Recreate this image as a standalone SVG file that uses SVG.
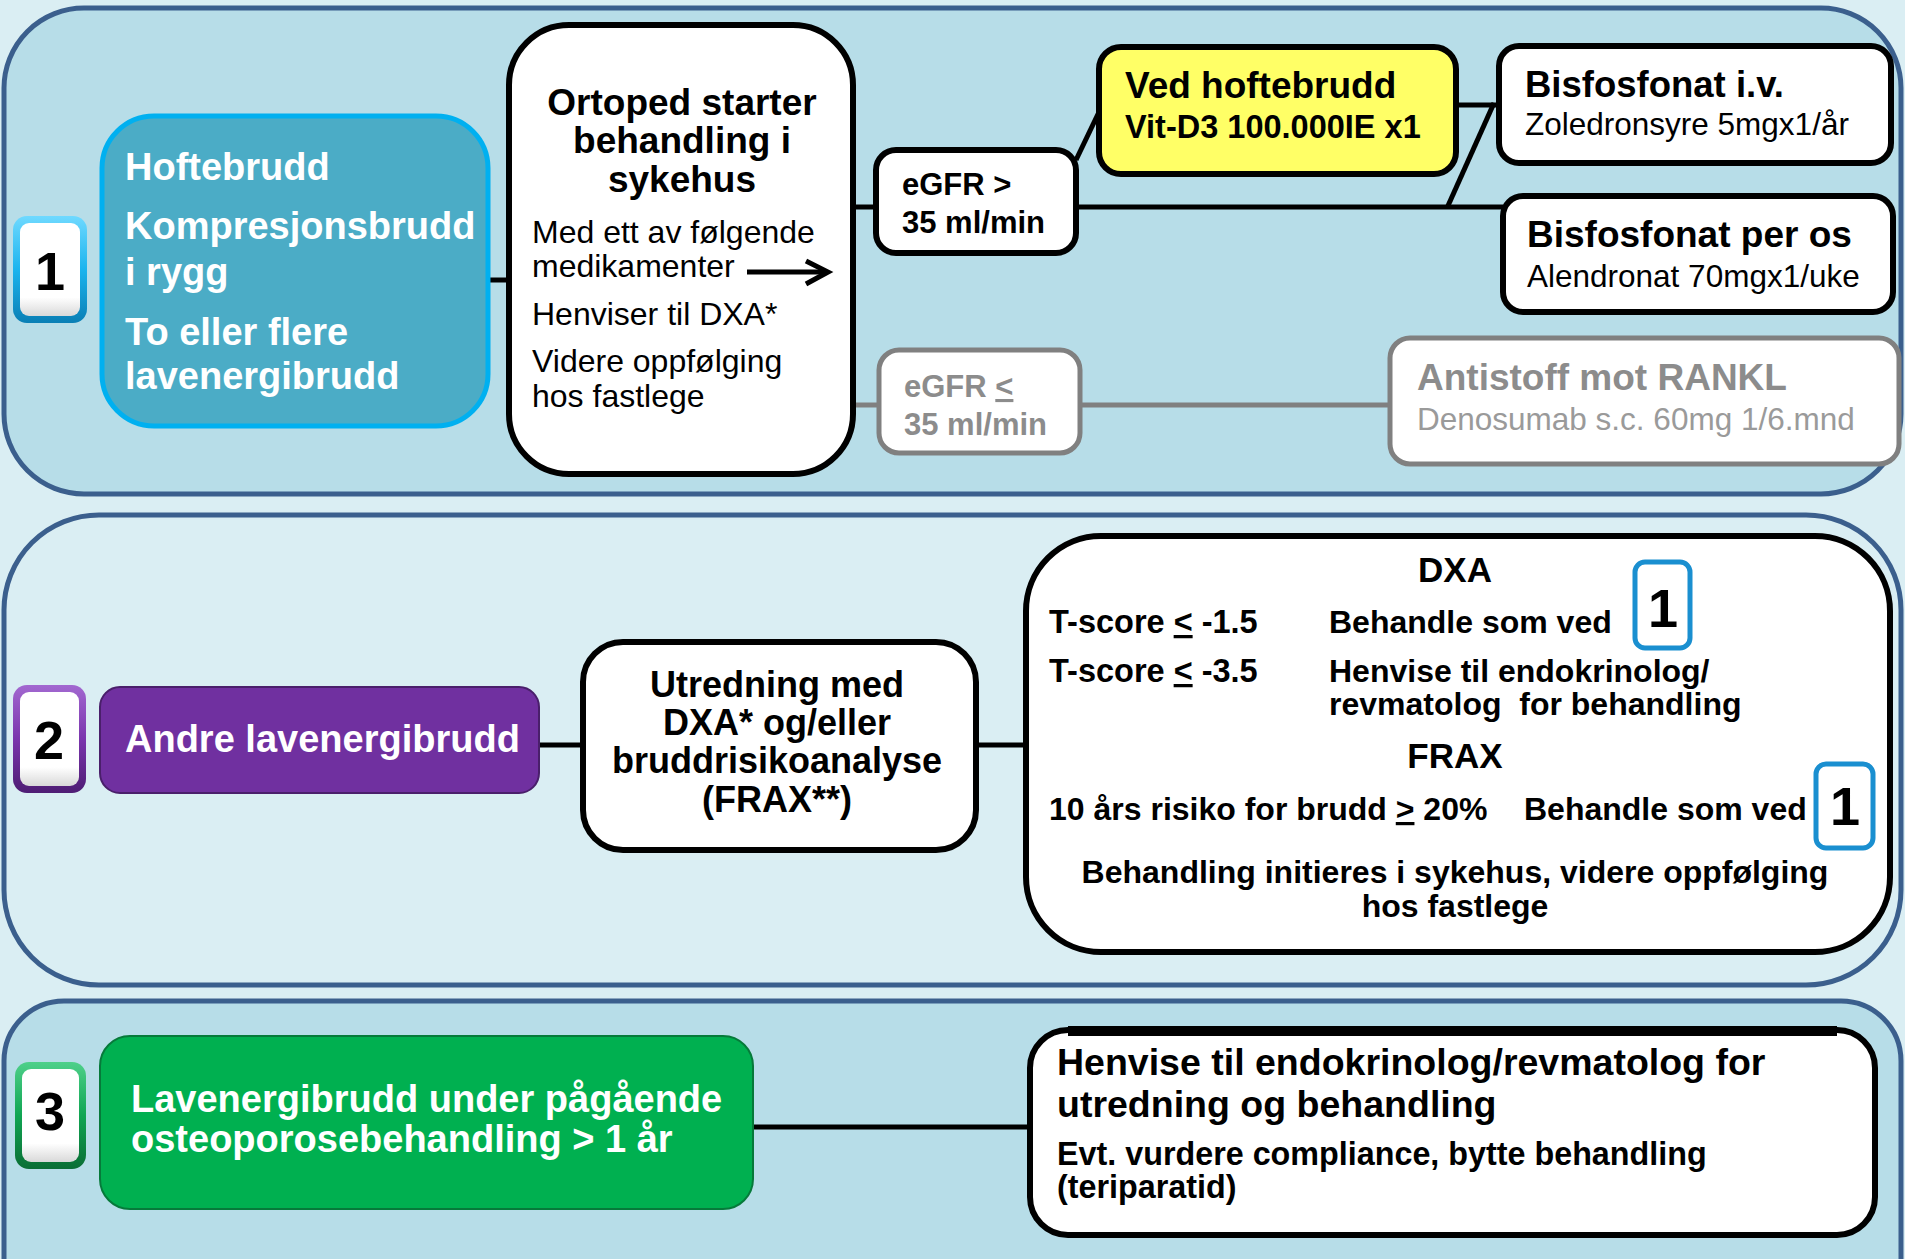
<svg xmlns="http://www.w3.org/2000/svg" width="1905" height="1259" viewBox="0 0 1905 1259">
<defs>
<style>
text{font-family:"Liberation Sans",Arial,sans-serif;}
.b{font-weight:bold;}
.w{fill:#ffffff;}
.k{fill:#000000;}
.g{fill:#8c8c8c;}
.box{fill:#ffffff;stroke:#000000;stroke-width:6;}
.gbox{fill:#ffffff;stroke:#808080;stroke-width:5;}
.panel{stroke:#3b5f8d;stroke-width:5;}
.con{stroke:#000000;stroke-width:5;fill:none;}
.gcon{stroke:#808080;stroke-width:5;fill:none;}
.num{font-weight:bold;font-size:54px;text-anchor:middle;fill:#000;}
.mid{text-anchor:middle;}
</style>
<linearGradient id="gBlue" x1="0" y1="0" x2="0" y2="1">
<stop offset="0" stop-color="#6fd9ff"/><stop offset="0.5" stop-color="#1bb4ee"/><stop offset="1" stop-color="#0a7fb5"/>
</linearGradient>
<linearGradient id="gPurple" x1="0" y1="0" x2="0" y2="1">
<stop offset="0" stop-color="#a268d0"/><stop offset="0.5" stop-color="#7a35ad"/><stop offset="1" stop-color="#4e1d74"/>
</linearGradient>
<linearGradient id="gGreen" x1="0" y1="0" x2="0" y2="1">
<stop offset="0" stop-color="#4ed08a"/><stop offset="0.5" stop-color="#10a552"/><stop offset="1" stop-color="#0a6e35"/>
</linearGradient>
<linearGradient id="gWhite" x1="0" y1="0" x2="0" y2="1">
<stop offset="0" stop-color="#ffffff"/><stop offset="0.8" stop-color="#ffffff"/><stop offset="1" stop-color="#d9d9d9"/>
</linearGradient>
</defs>

<rect x="0" y="0" width="1905" height="1259" fill="#daeef3"/>

<g id="panel1"><rect class="panel" x="4" y="8" width="1897" height="486" rx="80" fill="#b7dde8"/></g>
<g id="panel2"><rect class="panel" x="4" y="515" width="1897" height="470" rx="95" fill="#daeef3"/></g>
<g id="panel3"><rect class="panel" x="4" y="1001" width="1897" height="320" rx="60" fill="#b7dde8"/></g>

<g id="connectors">
<line class="con" x1="488" y1="280" x2="510" y2="280"/>
<line class="con" x1="852" y1="207" x2="876" y2="207"/>
<line class="gcon" x1="852" y1="405" x2="880" y2="405"/>
<line class="con" x1="1076" y1="160" x2="1099" y2="112"/>
<line class="con" x1="1076" y1="207" x2="1503" y2="207"/>
<line class="con" x1="1456" y1="105" x2="1499" y2="105"/>
<line class="con" x1="1447" y1="208" x2="1494" y2="103"/>
<line class="gcon" x1="1080" y1="405" x2="1391" y2="405"/>
<line class="con" x1="537" y1="745" x2="583" y2="745"/>
<line class="con" x1="976" y1="745" x2="1026" y2="745"/>
<line class="con" x1="751" y1="1127" x2="1030" y2="1127"/>
</g>

<g id="badge1">
<rect x="13" y="216" width="74" height="107" rx="14" fill="url(#gBlue)"/>
<rect x="20" y="223" width="60" height="93" rx="9" fill="url(#gWhite)"/>
<text class="num" x="50" y="290">1</text>
</g>

<g id="node-hoftebrudd">
<rect x="102" y="116" width="386" height="310" rx="52" fill="#4bacc6" stroke="#00b0f0" stroke-width="5"/>
<text class="b w" font-size="38" x="125"><tspan x="125" y="180">Hoftebrudd</tspan><tspan x="125" y="239">Kompresjonsbrudd</tspan><tspan x="125" y="285">i rygg</tspan><tspan x="125" y="345">To eller flere</tspan><tspan x="125" y="389">lavenergibrudd</tspan></text>
</g>

<g id="node-ortoped">
<rect class="box" x="509" y="25" width="344" height="449" rx="60"/>
<text class="b k mid" font-size="37"><tspan x="682" y="115">Ortoped starter</tspan><tspan x="682" y="153">behandling i</tspan><tspan x="682" y="192">sykehus</tspan></text>
<text class="k" font-size="32"><tspan x="532" y="243">Med ett av følgende</tspan><tspan x="532" y="277">medikamenter</tspan><tspan x="532" y="325">Henviser til DXA*</tspan><tspan x="532" y="372">Videre oppfølging</tspan><tspan x="532" y="407">hos fastlege</tspan></text>
<line x1="747" y1="272" x2="824" y2="272" stroke="#000" stroke-width="5"/>
<polyline points="806,261 828,272 806,284" fill="none" stroke="#000" stroke-width="5" stroke-linejoin="miter"/>
</g>

<g id="node-egfr-high">
<rect class="box" x="876" y="150" width="200" height="103" rx="20"/>
<text class="b k" font-size="31"><tspan x="902" y="195">eGFR &gt;</tspan><tspan x="902" y="233">35 ml/min</tspan></text>
</g>

<g id="node-egfr-low">
<rect class="gbox" x="879" y="350" width="201" height="103" rx="20"/>
<text class="b g" font-size="31"><tspan x="904" y="397">eGFR <tspan text-decoration="underline">&lt;</tspan></tspan><tspan x="904" y="435">35 ml/min</tspan></text>
</g>

<g id="node-ved-hoftebrudd">
<rect x="1099" y="47" width="357" height="127" rx="22" fill="#ffff66" stroke="#000" stroke-width="6"/>
<text class="b k" font-size="37" x="1125" y="98">Ved hoftebrudd</text>
<text class="b k" font-size="32.5" x="1125" y="138">Vit-D3 100.000IE x1</text>
</g>

<g id="node-bisfosfonat-iv">
<rect class="box" x="1499" y="46" width="392" height="117" rx="20"/>
<text class="b k" font-size="36.5" x="1525" y="97">Bisfosfonat i.v.</text>
<text class="k" font-size="31.5" x="1525" y="135">Zoledronsyre 5mgx1/år</text>
</g>

<g id="node-bisfosfonat-os">
<rect class="box" x="1503" y="196" width="390" height="116" rx="20"/>
<text class="b k" font-size="37" x="1527" y="247">Bisfosfonat per os</text>
<text class="k" font-size="31.5" x="1527" y="287">Alendronat 70mgx1/uke</text>
</g>

<g id="node-antistoff">
<rect class="gbox" x="1390" y="338" width="509" height="126" rx="20"/>
<text class="b g" font-size="37" x="1417" y="390">Antistoff mot RANKL</text>
<text font-size="31.5" x="1417" y="430" fill="#9a9a9a">Denosumab s.c. 60mg 1/6.mnd</text>
</g>

<g id="badge2">
<rect x="13" y="685" width="73" height="108" rx="14" fill="url(#gPurple)"/>
<rect x="20" y="692" width="59" height="94" rx="9" fill="url(#gWhite)"/>
<text class="num" x="49" y="759">2</text>
</g>

<g id="node-andre">
<rect x="100" y="687" width="439" height="106" rx="20" fill="#7030a0" stroke="#4a1f6b" stroke-width="2"/>
<text class="b w" font-size="38" x="125" y="752">Andre lavenergibrudd</text>
</g>

<g id="node-utredning">
<rect class="box" x="583" y="642" width="393" height="208" rx="40"/>
<text class="b k mid" font-size="36"><tspan x="777" y="697">Utredning med</tspan><tspan x="777" y="735">DXA* og/eller</tspan><tspan x="777" y="773">bruddrisikoanalyse</tspan><tspan x="777" y="812">(FRAX**)</tspan></text>
</g>

<g id="node-dxa-frax">
<rect class="box" x="1026" y="536" width="864" height="416" rx="75"/>
<text class="b k mid" font-size="35" x="1455" y="582">DXA</text>
<text class="b k" font-size="32.5" x="1049" y="633">T-score <tspan text-decoration="underline">&lt;</tspan> -1.5</text>
<text class="b k" font-size="32" x="1329" y="633">Behandle som ved</text>
<text class="b k" font-size="32.5" x="1049" y="682">T-score <tspan text-decoration="underline">&lt;</tspan> -3.5</text>
<text class="b k" font-size="32" xml:space="preserve"><tspan x="1329" y="682">Henvise til endokrinolog/</tspan><tspan x="1329" y="715">revmatolog  for behandling</tspan></text>
<text class="b k mid" font-size="35" x="1455" y="768">FRAX</text>
<text class="b k" font-size="32" x="1049" y="820">10 års risiko for brudd <tspan text-decoration="underline">&gt;</tspan> 20%</text>
<text class="b k" font-size="32" x="1524" y="820">Behandle som ved</text>
<text class="b k mid" font-size="32"><tspan x="1455" y="883">Behandling initieres i sykehus, videre oppfølging</tspan><tspan x="1455" y="917">hos fastlege</tspan></text>
</g>

<g id="badge1-dxa">
<rect x="1635" y="562" width="55" height="86" rx="10" fill="#ffffff" stroke="#1a8fd0" stroke-width="5"/>
<text class="num" x="1663" y="627">1</text>
</g>

<g id="badge1-frax">
<rect x="1816" y="764" width="57" height="84" rx="10" fill="#ffffff" stroke="#1a8fd0" stroke-width="5"/>
<text class="num" x="1845" y="825">1</text>
</g>

<g id="badge3">
<rect x="15" y="1062" width="71" height="107" rx="14" fill="url(#gGreen)"/>
<rect x="22" y="1069" width="57" height="93" rx="9" fill="url(#gWhite)"/>
<text class="num" x="50" y="1130">3</text>
</g>

<g id="node-lavenergi-under">
<rect x="100" y="1036" width="653" height="173" rx="30" fill="#00b050" stroke="#067a3a" stroke-width="2"/>
<text class="b w" font-size="38"><tspan x="131" y="1112">Lavenergibrudd under pågående</tspan><tspan x="131" y="1152">osteoporosebehandling &gt; 1 år</tspan></text>
</g>

<g id="node-henvise">
<rect class="box" x="1030" y="1030" width="845" height="205" rx="38"/>
<path d="M1068,1031 H1837" stroke="#000" stroke-width="10"/>
<text class="b k" font-size="37.5"><tspan x="1057" y="1075">Henvise til endokrinolog/revmatolog for</tspan><tspan x="1057" y="1117">utredning og behandling</tspan></text>
<text class="b k" font-size="32.3"><tspan x="1057" y="1165">Evt. vurdere compliance, bytte behandling</tspan><tspan x="1057" y="1198">(teriparatid)</tspan></text>
</g>
</svg>
